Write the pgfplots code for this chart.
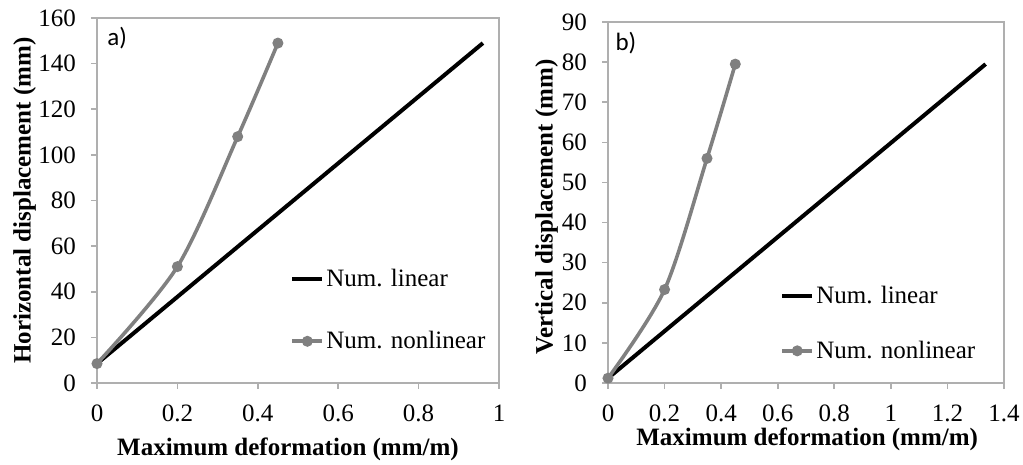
\documentclass[border=0pt]{standalone}
\usepackage{pgfplots}
\pgfplotsset{compat=1.18}
\usepackage{fontspec}
\setmainfont{Liberation Serif}
\newfontfamily\calib{Carlito}

\definecolor{nlgray}{RGB}{128,128,128}
\definecolor{boxgray}{RGB}{175,175,175}

\pgfplotsset{
  panel/.style={
    scale only axis,
    clip=false,
    font=\fontsize{12.5}{14}\selectfont,
    /pgf/number format/assume math mode=true,
    axis line style={draw=boxgray, line width=0.8pt},
    tick style={draw=boxgray, line width=0.8pt},
    tick align=outside,
    major tick length=3pt,
    xtick pos=bottom, ytick pos=left,
    xticklabel style={yshift=-4.5pt},
    yticklabel style={xshift=-4pt},
    label style={font=\fontsize{12.5}{14}\selectfont\bfseries},
    legend style={draw=none, fill=none, inner sep=0pt,
      nodes={inner xsep=1pt, anchor=west}},
    legend cell align=left,
  },
  linstyle/.style={black, line width=2pt, no marks},
  nlstyle/.style={nlgray, line width=1.8pt, smooth, tension=0.5,
    mark=*, mark size=1.8pt, mark options={fill=nlgray, draw=nlgray}},
}

\begin{document}
\begin{tikzpicture}
\useasboundingbox (-48.5pt,-41pt) rectangle (463pt,191.5pt);

% panel a)
\begin{axis}[panel,
  at={(0,0)}, anchor=south west,
  width=201pt, height=182.5pt,
  xmin=0, xmax=1, ymin=0, ymax=160,
  xtick={0,0.2,0.4,0.6,0.8,1},
  xticklabels={0,0.2,0.4,0.6,0.8,1},
  ytick={0,20,...,160},
  xlabel={Maximum deformation (mm/m)},
  ylabel={Horizontal displacement (mm)},
  xlabel style={at={(axis description cs:0.475,-0.183)}, anchor=center},
  ylabel style={at={(axis description cs:-0.18,0.5)}, anchor=center},
  legend style={at={(0.48,0.325)}, anchor=north west,
    row sep=17pt},
  legend image code/.code={
    \draw[#1, mark repeat=2, mark phase=2] plot coordinates {(0pt,0pt) (7.5pt,0pt) (15pt,0pt)};},
]
\addplot[linstyle] coordinates {(0,8.5) (0.96,149)};
\addlegendentry{Num. linear}
\addplot[nlstyle] coordinates {(0,8.5) (0.2,51) (0.35,108) (0.45,149)};
\addlegendentry{Num. nonlinear}
\node[anchor=west, inner sep=0pt, font=\calib\fontsize{12.5}{14}\selectfont]
  at (rel axis cs:0.025,0.945) {a)};
\end{axis}

% panel b)
\begin{axis}[panel,
  at={(255.5pt,0)}, anchor=south west,
  width=198pt, height=180.5pt,
  xmin=0, xmax=1.4, ymin=0, ymax=90,
  xtick={0,0.2,0.4,0.6,0.8,1,1.2,1.4},
  xticklabels={0,0.2,0.4,0.6,0.8,1,1.2,1.4},
  ytick={0,10,...,90},
  xlabel={Maximum deformation (mm/m)},
  ylabel={Vertical displacement (mm)},
  xlabel style={at={(axis description cs:0.503,-0.157)}, anchor=center},
  ylabel style={at={(axis description cs:-0.155,0.4875)}, anchor=center},
  legend style={at={(0.434,0.28)}, anchor=north west,
    row sep=13pt},
  legend image code/.code={
    \draw[#1, mark repeat=2, mark phase=2] plot coordinates {(0pt,0pt) (7.5pt,0pt) (15pt,0pt)};},
]
\addplot[linstyle] coordinates {(0,1.2) (1.335,79.5)};
\addlegendentry{Num. linear}
\addplot[nlstyle] coordinates {(0,1.2) (0.2,23.3) (0.35,56) (0.45,79.5)};
\addlegendentry{Num. nonlinear}
\node[anchor=west, inner sep=0pt, font=\calib\fontsize{12.5}{14}\selectfont]
  at (rel axis cs:0.018,0.942) {b)};
\end{axis}
\end{tikzpicture}
\end{document}
